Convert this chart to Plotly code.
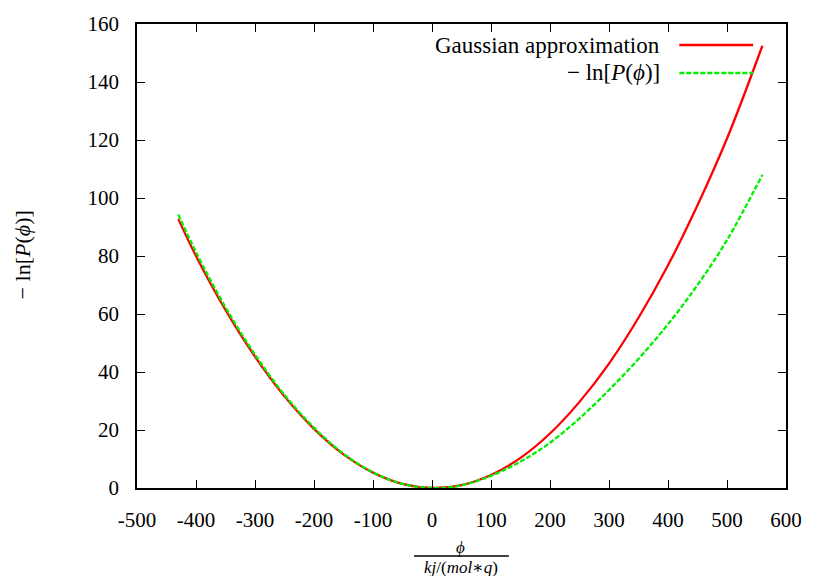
import plotly.graph_objects as go

# Values
phi = [-430, -400, -350, -300, -250, -200, -150, -100, -50, 0, 50, 100, 150,
       200, 250, 300, 350, 400, 450, 500, 560]
gauss = [92.8, 80.0, 61.4, 45.3, 31.6, 20.4, 11.6, 5.3, 1.4, 0.0, 1.0, 4.5, 10.4,
         18.8, 29.7, 42.9, 58.7, 76.8, 97.5, 120.5, 152.5]
neg_ln_p = [94.3, 81.3, 62.3, 46.0, 32.1, 20.8, 11.8, 5.4, 1.4, 0.0, 0.9, 4.2, 9.1,
            15.6, 24.0, 33.8, 44.5, 56.5, 70.0, 85.5, 108.0]

x_ticks = [-500, -400, -300, -200, -100, 0, 100, 200, 300, 400, 500, 600]
y_ticks = [0, 20, 40, 60, 80, 100, 120, 140, 160]

series_names = ["Gaussian approximation", "\u2212 ln[<i>P</i>(<i>\u03d5</i>)]"]
RED = "#ff0000"
GREEN = "#00ee00"
FONT = "Liberation Serif, DejaVu Serif, serif"

fig = go.Figure()
fig.add_trace(go.Scatter(x=phi, y=gauss, mode="lines", name="Gaussian approximation",
                         line=dict(color=RED, width=2.3, shape="spline"), showlegend=False))
fig.add_trace(go.Scatter(x=phi, y=neg_ln_p, mode="lines", name="-ln[P(phi)]",
                         line=dict(color=GREEN, width=2.3, dash="5px,2px", shape="spline"),
                         showlegend=False))

axis_common = dict(showline=True, linecolor="black", linewidth=1.5, mirror="allticks",
                   ticks="inside", ticklen=8, tickwidth=1, tickcolor="black",
                   showgrid=False, zeroline=False,
                   tickfont=dict(family=FONT, size=21, color="black"))

fig.update_xaxes(range=[-500, 600], tickvals=x_ticks, ticktext=[str(v) for v in x_ticks],
                 ticklabelstandoff=12, **axis_common)
fig.update_yaxes(range=[0, 160], tickvals=y_ticks, ticktext=[str(v) for v in y_ticks],
                 ticklabelstandoff=12, **axis_common)

# Manual legend (text right-aligned, sample line to the right, gnuplot style)
leg_rows = [(0.9547, RED, None), (0.8944, GREEN, "dash")]
for name, (yy, col, dash) in zip(series_names, leg_rows):
    fig.add_annotation(text=name, xref="paper", yref="paper", x=0.8095, y=yy,
                       xanchor="right", yanchor="middle", showarrow=False,
                       font=dict(family=FONT, size=23, color="#000000"))
    fig.add_shape(type="line", xref="paper", yref="paper", x0=0.8356, x1=0.9493,
                  y0=yy, y1=yy, line=dict(color=col, width=2.3,
                                          dash="5px,2px" if dash else "solid"))

# Y axis title
fig.add_annotation(text="\u2212 ln[<i>P</i>(<i>\u03d5</i>)]", xref="paper", yref="paper",
                   x=-0.1767, y=0.502, textangle=-90, showarrow=False,
                   xanchor="center", yanchor="middle",
                   font=dict(family=FONT, size=22, color="#000000"))

# X axis title as a fraction
fig.add_annotation(text="<i>\u03d5</i>", xref="paper", yref="paper", x=0.4992, y=-0.1293,
                   showarrow=False, xanchor="center", yanchor="middle",
                   font=dict(family=FONT, size=17, color="#000000"))
fig.add_shape(type="line", xref="paper", yref="paper", x0=0.427, x1=0.573,
              y0=-0.1466, y1=-0.1466, line=dict(color="black", width=1.6))
fig.add_annotation(text="<i>kj</i>/(<i>mol</i>\u2217<i>q</i>)", xref="paper", yref="paper",
                   x=0.4992, y=-0.172, showarrow=False, xanchor="center", yanchor="middle",
                   font=dict(family=FONT, size=17, color="#000000"))

fig.update_layout(width=814, height=576, margin=dict(l=137, r=26, t=24, b=88),
                  paper_bgcolor="white", plot_bgcolor="white",
                  font=dict(family=FONT, size=21, color="black"))

fig.write_html("out.html")
